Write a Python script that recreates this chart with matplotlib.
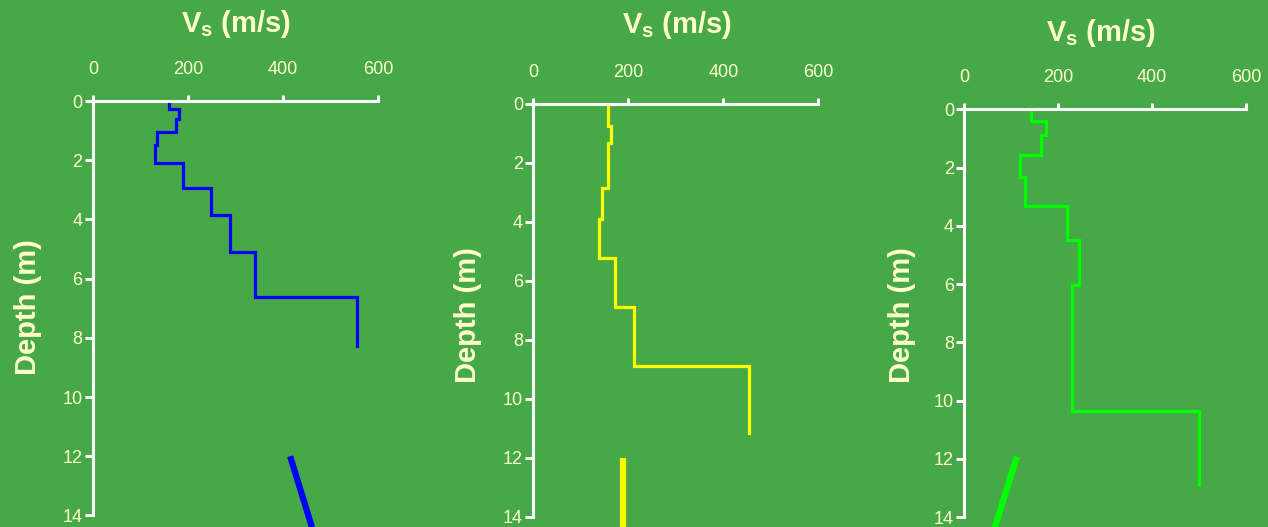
import matplotlib.pyplot as plt

#------------------------------------------------------------------------------

plt.rcParams['font.family'] = ['Liberation Sans', 'DejaVu Sans']
plt.rcParams['mathtext.fontset'] = 'custom'
plt.rcParams['mathtext.rm'] = 'Liberation Sans'
plt.rcParams['mathtext.bf'] = 'Liberation Sans:bold'

bg_color = '#46A846'
txt_color = '#FFFFCC'

#-- Perfiles Vs (velocidad m/s, profundidad m) --
vs_1 = [160, 160, 180, 180, 174, 174, 135, 135, 130, 130, 189, 189, 248, 248, 289, 289, 341, 341, 555, 555]
z_1 = [0.0, 0.27, 0.27, 0.6, 0.6, 1.05, 1.05, 1.5, 1.5, 2.08, 2.08, 2.93, 2.93, 3.85, 3.85, 5.09, 5.09, 6.61, 6.61, 8.28]

vs_2 = [157, 157, 164, 164, 157, 157, 144, 144, 138, 138, 171, 171, 211, 211, 455, 455]
z_2 = [0.0, 0.76, 0.76, 1.32, 1.32, 2.85, 2.85, 3.91, 3.91, 5.22, 5.22, 6.88, 6.88, 8.89, 8.89, 11.15]

vs_3 = [143, 143, 173, 173, 163, 163, 119, 119, 129, 129, 218, 218, 244, 244, 229, 229, 499, 499]
z_3 = [0.0, 0.4, 0.4, 0.88, 0.88, 1.58, 1.58, 2.33, 2.33, 3.31, 3.31, 4.49, 4.49, 6.03, 6.03, 10.35, 10.35, 12.9]

#-- Segmentos gruesos inferiores --
thick_vs_1 = [415, 461]
thick_z_1 = [12.0, 14.4]
thick_vs_2 = [188, 188]
thick_z_2 = [12.0, 14.4]
thick_vs_3 = [112, 65]
thick_z_3 = [11.92, 14.35]

x_ticks = [0, 200, 400, 600]
y_ticks = [0, 2, 4, 6, 8, 10, 12, 14]

#------------------------------------------------------------------------------

W, H = 1268, 527
fig = plt.figure(figsize=(W / 100, H / 100), dpi=100, facecolor=bg_color)

# (left px, top px, width px, px per m, color, vs, z, thick vs, thick z, title pos, ylabel pos)
panels = [
    (93.0, 101.0, 285.0, 29.6, '#0000FF', vs_1, z_1, thick_vs_1, thick_z_1, (236, 24), (28, 307)),
    (533.3, 103.7, 285.0, 29.5, '#FFFF00', vs_2, z_2, thick_vs_2, thick_z_2, (677, 25), (468, 315)),
    (964.3, 109.3, 281.7, 29.14, '#00FF00', vs_3, z_3, thick_vs_3, thick_z_3, (1101, 33), (902, 315)),
]

for left, top, width, scale, col, vs, zz, tvs, tz, tpos, lpos in panels:
    height = 14 * scale
    ax = fig.add_axes([left / W, (H - top - height) / H, width / W, height / H])
    ax.set_facecolor('none')

    ax.plot(vs, zz, color=col, lw=2.3, solid_joinstyle='miter')
    ax.plot(tvs, tz, color=col, lw=4.5, clip_on=False, solid_capstyle='butt')

    ax.set_xlim(0, 600)
    ax.set_ylim(14, 0)
    ax.set_xticks(x_ticks)
    ax.set_yticks(y_ticks)

    ax.xaxis.tick_top()
    for s in ['right', 'bottom']:
        ax.spines[s].set_visible(False)
    for s in ['left', 'top']:
        ax.spines[s].set_color('white')
        ax.spines[s].set_linewidth(2.2)

    ax.tick_params(axis='x', colors='white', labelcolor=txt_color, length=4.5,
                   width=2.2, pad=12, labelsize=13)
    ax.tick_params(axis='y', colors='white', labelcolor=txt_color, length=5.5,
                   width=2.2, pad=2, labelsize=13)

    fig.text(tpos[0] / W, 1 - tpos[1] / H, r'V$_\mathbf{s}$ (m/s)', color=txt_color,
             fontsize=21, fontweight='bold', ha='center', va='center')
    fig.text(lpos[0] / W, 1 - lpos[1] / H, 'Depth (m)', color=txt_color,
             fontsize=21, fontweight='bold', ha='center', va='center', rotation=90)

fig.savefig('out.png', dpi=100, facecolor=bg_color)

#------------------------------------------------------------------------------
